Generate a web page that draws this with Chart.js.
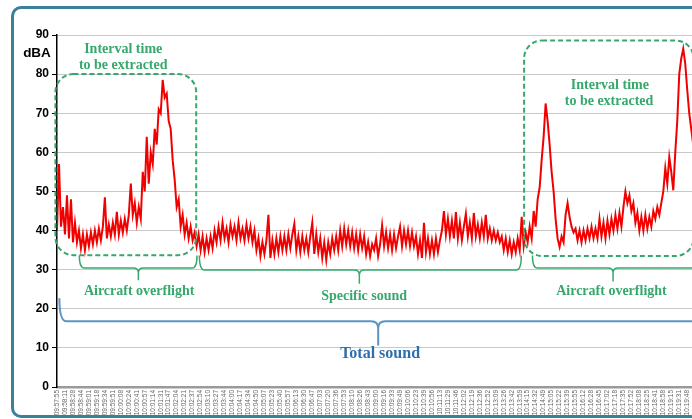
<!DOCTYPE html>
<html>
<head>
<meta charset="utf-8">
<script src="https://cdn.jsdelivr.net/npm/chart.js@4.4.1/dist/chart.umd.min.js"></script>
<style>
    html,body{margin:0;padding:0;background:#fff;overflow:hidden;}
    #wrap{position:relative;width:692px;height:419px;overflow:hidden;}
    #frame{position:absolute;left:11px;top:6px;width:760px;height:412px;border:3px solid #3b7f98;border-radius:10px;box-sizing:border-box;}
    #chart{position:absolute;left:0;top:0;}
</style>
</head>
<body>
<div id="wrap">
    <div id="frame"></div>
    <canvas id="chart" width="720" height="419"></canvas>
</div>
<script>

// time labels, one per tick on the x axis
const timeLabels = [
    "09:57:55","09:58:11","09:58:28","09:58:44","09:59:01","09:59:18","09:59:34","09:59:51",
    "10:00:08","10:00:24","10:00:41","10:00:57","10:01:14","10:01:31","10:01:47","10:02:04",
    "10:02:21","10:02:37","10:02:54","10:03:10","10:03:27","10:03:44","10:04:00","10:04:17",
    "10:04:34","10:04:50","10:05:07","10:05:23","10:05:40","10:05:57","10:06:13","10:06:30",
    "10:06:47","10:07:03","10:07:20","10:07:36","10:07:53","10:08:10","10:08:26","10:08:43",
    "10:09:00","10:09:16","10:09:33","10:09:49","10:10:06","10:10:23","10:10:39","10:10:56",
    "10:11:13","10:11:29","10:11:46","10:12:02","10:12:19","10:12:36","10:12:52","10:13:09",
    "10:13:26","10:13:42","10:13:59","10:14:15","10:14:32","10:14:49","10:15:05","10:15:22",
    "10:15:39","10:15:55","10:16:12","10:16:28","10:16:45","10:17:02","10:17:18","10:17:35",
    "10:17:52","10:18:08","10:18:25","10:18:41","10:18:58","10:19:15","10:19:31","10:19:48"
];

// sound level (dBA), sampled every quarter of a tick interval
const samplesPerTick = 4;
const levels = [
    40, 57, 41, 46, 39, 49, 38, 48, 37, 42,
    37, 40, 35.5, 39, 35, 39, 36, 39.5, 36.5, 40,
    37, 40.5, 37.5, 41, 48.5, 38, 41.5, 38.5, 42, 39,
    44.8, 39, 42.5, 39.5, 43, 40, 44, 52, 44, 47,
    42, 46, 43, 55, 50, 64, 52, 60, 57, 66,
    62, 71, 70, 78.5, 74, 75, 68, 66, 58, 53,
    46, 48, 41, 44, 39, 42, 38, 41, 37.5, 39.5,
    36, 39, 35, 38.5, 34.5, 38, 35, 38.5, 35.5, 40,
    37, 41, 37.5, 42, 38, 40.5, 37, 41.5, 38.5, 41,
    37.5, 42, 38, 40.5, 37.5, 41.5, 38, 41, 37, 40,
    35, 38, 33.5, 37, 34, 37.5, 44, 33, 37.5, 34,
    38, 34.5, 38.5, 35, 38.5, 35, 39, 35.5, 39, 41.7,
    35, 38.5, 34.5, 38.5, 35, 38, 34.5, 38.5, 42, 34,
    39, 34.5, 38, 33, 37, 32.5, 37, 34, 38, 35,
    38.5, 35, 40, 36, 40.5, 36.5, 40, 36, 39.5, 35.5,
    39, 35, 39, 35.5, 38.5, 34, 37, 33.5, 36.5, 35,
    38, 33.5, 36.5, 41.3, 36, 39.5, 35.5, 39, 35, 39,
    35.5, 38.5, 41, 36, 40, 36.5, 40, 36, 39.5, 36,
    38.5, 34, 37.5, 33, 42, 34.5, 38, 34, 37.5, 34,
    38, 34.5, 37.5, 40, 45, 39, 43, 38.5, 42.5, 38,
    44.7, 38, 42, 37.5, 41, 44.3, 38.5, 42, 38, 44.5,
    38.5, 41.5, 38, 42, 38.5, 44, 38, 40.5, 37.5, 40,
    37.5, 39.5, 37, 38.5, 35, 38, 34.5, 37.5, 34, 37,
    34.5, 38, 35, 43.5, 36, 39.5, 37, 41, 38, 45,
    41, 48, 51, 58, 64, 72.5, 68, 62, 55, 50,
    43, 38, 35.8, 38.5, 37, 44, 47, 43.5, 41, 39.5,
    40.5, 37.5, 40, 37, 40, 37.5, 40.5, 38, 41, 38,
    40.5, 38, 43, 38.5, 42, 38, 42.5, 39, 43, 40,
    44, 40.5, 44.5, 41, 46, 50, 47, 49, 45, 47,
    42, 44.5, 40, 43.5, 40, 44, 40.5, 43.5, 41, 45,
    43, 46, 44, 47, 50, 56, 52, 58.8, 55, 50.3,
    60, 68, 80, 84, 86.5, 82.7, 76, 70, 66, 62
];

const GREEN = "#36a86c";
const BLUE_TEXT = "#2d6fab";
const BLUE_LINE = "#5a95c8";

// annotation shapes, in axis units (x = tick index, y = dBA)
const extractBoxes = [
    {x1:-0.2, x2:17.45, top:80, bottom:33.7, r:18},
    {x1:58.55, x2:79.8, top:88.6, bottom:33.5, r:18}
];
const greenBraces = [
    {x1:2.8,  xm:10.2, x2:17.55, top:33.6, line:30.4, tip:27.3},
    {x1:17.85, xm:37.9, x2:58.2, top:33.6, line:29.9, tip:26.4},
    {x1:59.6, xm:69.7, x2:83,   top:33.6, line:30.4, tip:27.0}
];
const totalBrace = {x1:0.3, xm:40.26, x2:85, top:22.7, line:16.8, tip:10.6};
const notes = [
    {text:"Interval time",       x:8.3,  y:86.3, color:GREEN, size:14},
    {text:"to be extracted",     x:8.3,  y:82.2, color:GREEN, size:14},
    {text:"Interval time",       x:69.3, y:77.1, color:GREEN, size:14},
    {text:"to be extracted",     x:69.2, y:73.1, color:GREEN, size:14},
    {text:"Aircraft overflight", x:10.3, y:24.4, color:GREEN, size:14},
    {text:"Specific sound",      x:38.5, y:23.2, color:GREEN, size:14},
    {text:"Aircraft overflight", x:69.5, y:24.4, color:GREEN, size:14},
    {text:"Total sound",         x:40.5, y:8.6,  color:BLUE_TEXT, size:16}
];

const points = levels.map((v,i)=>({x:i/samplesPerTick, y:v}));

function roundBox(ctx,x1,y1,x2,y2,r){
    ctx.beginPath();
    ctx.moveTo(x1+r,y1);
    ctx.arcTo(x2,y1,x2,y2,r);
    ctx.arcTo(x2,y2,x1,y2,r);
    ctx.arcTo(x1,y2,x1,y1,r);
    ctx.arcTo(x1,y1,x2,y1,r);
    ctx.closePath();
    ctx.stroke();
}

function brace(ctx,x1,xm,x2,yTop,yLine,yTip,r){
    ctx.beginPath();
    ctx.moveTo(x1,yTop);
    ctx.quadraticCurveTo(x1,yLine,x1+r,yLine);
    ctx.lineTo(xm-r,yLine);
    ctx.quadraticCurveTo(xm,yLine,xm,yLine+r);
    ctx.lineTo(xm,yTip);
    ctx.moveTo(xm,yLine+r);
    ctx.quadraticCurveTo(xm,yLine,xm+r,yLine);
    ctx.lineTo(x2-r,yLine);
    ctx.quadraticCurveTo(x2,yLine,x2,yTop);
    ctx.stroke();
}

const annotations = {
    id:"annotations",
    afterDatasetsDraw(chart){
        const {ctx, scales:{x,y}, chartArea} = chart;
        const px = v=>x.getPixelForValue(v);
        const py = v=>y.getPixelForValue(v);
        ctx.save();

        // dashed boxes
        ctx.strokeStyle = GREEN;
        ctx.lineWidth = 2;
        ctx.setLineDash([5,3]);
        extractBoxes.forEach(b=>roundBox(ctx,px(b.x1),py(b.top),px(b.x2),py(b.bottom),b.r));
        ctx.setLineDash([]);

        // braces
        ctx.lineWidth = 1.5;
        greenBraces.forEach(b=>brace(ctx,px(b.x1),px(b.xm),px(b.x2),py(b.top),py(b.line),py(b.tip),5));
        ctx.strokeStyle = BLUE_LINE;
        ctx.lineWidth = 2;
        const t = totalBrace;
        brace(ctx,px(t.x1),px(t.xm),px(t.x2),py(t.top),py(t.line),py(t.tip),7);

        // texts
        ctx.textAlign = "center";
        ctx.textBaseline = "middle";
        notes.forEach(n=>{
            ctx.fillStyle = n.color;
            ctx.font = `bold ${n.size}px "Liberation Serif", "Times New Roman", serif`;
            ctx.fillText(n.text,px(n.x),py(n.y));
        });

        ctx.fillStyle = "#000";
        ctx.font = 'bold 13.5px "Liberation Sans", Arial, sans-serif';
        ctx.fillText("dBA",chartArea.left-20,py(85.3));
        ctx.restore();
    }
};

new Chart(document.getElementById("chart"),{
    type:"line",
    data:{
        datasets:[{
            data:points,
            borderColor:"#f20000",
            borderWidth:2,
            pointRadius:0,
            tension:0
        }]
    },
    options:{
        responsive:false,
        animation:false,
        devicePixelRatio:1,
        layout:{padding:{left:0,top:35,right:20,bottom:0}},
        plugins:{legend:{display:false},tooltip:{enabled:false}},
        scales:{
            x:{
                type:"linear",
                min:0,
                max:80.6,
                afterBuildTicks:s=>{ s.ticks = timeLabels.map((_,i)=>({value:i})); },
                afterFit:s=>{ s.height = 32; },
                grid:{display:false,drawTicks:false},
                border:{color:"#9a9a9a",width:2.5},
                ticks:{
                    autoSkip:false,
                    minRotation:90,
                    maxRotation:90,
                    padding:3,
                    color:"#666",
                    font:{size:6.5,family:'"Liberation Sans", Arial, sans-serif'},
                    callback:(v,i)=>timeLabels[i] ?? ""
                }
            },
            y:{
                min:0,
                max:90,
                afterFit:s=>{ s.width = 57; },
                grid:{color:"#c8c8c8",lineWidth:1,tickLength:5,tickColor:"#000"},
                border:{color:"#000",width:1.5},
                ticks:{
                    stepSize:10,
                    padding:3,
                    color:"#000",
                    font:{size:12,weight:"bold",family:'"Liberation Sans", Arial, sans-serif'}
                }
            }
        }
    },
    plugins:[annotations]
});

</script>
</body>
</html>
